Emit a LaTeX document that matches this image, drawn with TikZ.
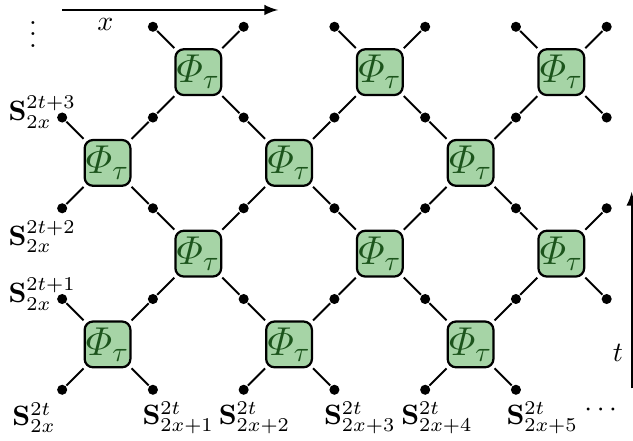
\documentclass[tikz,border=0pt]{standalone}
\usepackage{amsmath}
\definecolor{gatefill}{RGB}{166,212,166}
\definecolor{gatetext}{RGB}{28,84,28}
\begin{document}
\begin{tikzpicture}[x=0.57cm,y=0.57cm,line width=0.7pt]

      \useasboundingbox (-1.37,-1.12) rectangle (12.58,8.59);

      \begin{scope}[every node/.style={draw,line width=0.8pt,rounded corners=3pt,
          fill=gatefill,text=gatetext,minimum size=0.575cm,inner sep=0pt,font=\Large}]
        \node (p1)  at (1,1)  {$\varPhi_\tau$};
        \node (p2)  at (5,1)  {$\varPhi_\tau$};
        \node (p3)  at (9,1)  {$\varPhi_\tau$};
        \node (p4)  at (3,3)  {$\varPhi_\tau$};
        \node (p5)  at (7,3)  {$\varPhi_\tau$};
        \node (p6)  at (11,3) {$\varPhi_\tau$};
        \node (p7)  at (1,5)  {$\varPhi_\tau$};
        \node (p8)  at (5,5)  {$\varPhi_\tau$};
        \node (p9)  at (9,5)  {$\varPhi_\tau$};
        \node (p10) at (3,7)  {$\varPhi_\tau$};
        \node (p11) at (7,7)  {$\varPhi_\tau$};
        \node (p12) at (11,7) {$\varPhi_\tau$};
      \end{scope}

      \begin{scope}[every node/.style={circle,fill=black,inner sep=0pt,minimum size=3.6pt}]
        \node (a0) at (0,0)  {};
        \node (a1) at (2,0)  {};
        \node (a2) at (4,0)  {};
        \node (a3) at (6,0)  {};
        \node (a4) at (8,0)  {};
        \node (a5) at (10,0) {};
        \node (b0) at (0,2)  {};
        \node (b1) at (2,2)  {};
        \node (b2) at (4,2)  {};
        \node (b3) at (6,2)  {};
        \node (b4) at (8,2)  {};
        \node (b5) at (10,2) {};
        \node (b6) at (12,2) {};
        \node (c0) at (0,4)  {};
        \node (c1) at (2,4)  {};
        \node (c2) at (4,4)  {};
        \node (c3) at (6,4)  {};
        \node (c4) at (8,4)  {};
        \node (c5) at (10,4) {};
        \node (c6) at (12,4) {};
        \node (d0) at (0,6)  {};
        \node (d1) at (2,6)  {};
        \node (d2) at (4,6)  {};
        \node (d3) at (6,6)  {};
        \node (d4) at (8,6)  {};
        \node (d5) at (10,6) {};
        \node (d6) at (12,6) {};
        \node (e1) at (2,8)  {};
        \node (e2) at (4,8)  {};
        \node (e3) at (6,8)  {};
        \node (e4) at (8,8)  {};
        \node (e5) at (10,8) {};
        \node (e6) at (12,8) {};
      \end{scope}

      \begin{scope}[every edge/.style={draw}]
        \path (p1)  edge (a0) edge (a1) edge (b0) edge (b1);
        \path (p2)  edge (a2) edge (a3) edge (b2) edge (b3);
        \path (p3)  edge (a4) edge (a5) edge (b4) edge (b5);
        \path (p4)  edge (b1) edge (b2) edge (c1) edge (c2);
        \path (p5)  edge (b3) edge (b4) edge (c3) edge (c4);
        \path (p6)  edge (b5) edge (b6) edge (c5) edge (c6);
        \path (p7)  edge (c0) edge (c1) edge (d0) edge (d1);
        \path (p8)  edge (c2) edge (c3) edge (d2) edge (d3);
        \path (p9)  edge (c4) edge (c5) edge (d4) edge (d5);
        \path (p10) edge (d1) edge (d2) edge (e1) edge (e2);
        \path (p11) edge (d3) edge (d4) edge (e3) edge (e4);
        \path (p12) edge (d5) edge (d6) edge (e5) edge (e6);
      \end{scope}

      % site labels
      \begin{scope}[every node/.style={inner sep=0pt}]
        \node (l3) at (-0.44,6.12) {$\mathbf{S}_{2x}^{2t+3}$};
        \node (l2) at (-0.44,3.37) {$\mathbf{S}_{2x}^{2t+2}$};
        \node (l1) at (-0.44,2.11) {$\mathbf{S}_{2x}^{2t+1}$};
        \node (s0) at (-0.62,-0.62) {$\mathbf{S}_{2x}^{2t}$};
        \node (s1) at (2.56,-0.62)  {$\mathbf{S}_{2x+1}^{2t}$};
        \node (s2) at (4.24,-0.62)  {$\mathbf{S}_{2x+2}^{2t}$};
        \node (s3) at (6.56,-0.62)  {$\mathbf{S}_{2x+3}^{2t}$};
        \node (s4) at (8.26,-0.62)  {$\mathbf{S}_{2x+4}^{2t}$};
        \node (s5) at (10.58,-0.62) {$\mathbf{S}_{2x+5}^{2t}$};
        \node (hdots) at (11.92,-0.46) {$\cdots$};
        \node[anchor=south] (vdots) at (-0.64,7.53) {$\vdots$};
      \end{scope}

      % axes
      \coordinate (x0) at (0,8.37);
      \coordinate (x1) at (4.76,8.37);
      \draw[-latex] (x0) -- (x1);
      \node (xlab) at (0.95,8.04) {$x$};
      \coordinate (t0) at (12.55,0.03);
      \coordinate (t1) at (12.55,4.36);
      \draw[-latex] (t0) -- (t1);
      \node (tlab) at (12.25,0.81) {$t$};

    \end{tikzpicture}
\end{document}
